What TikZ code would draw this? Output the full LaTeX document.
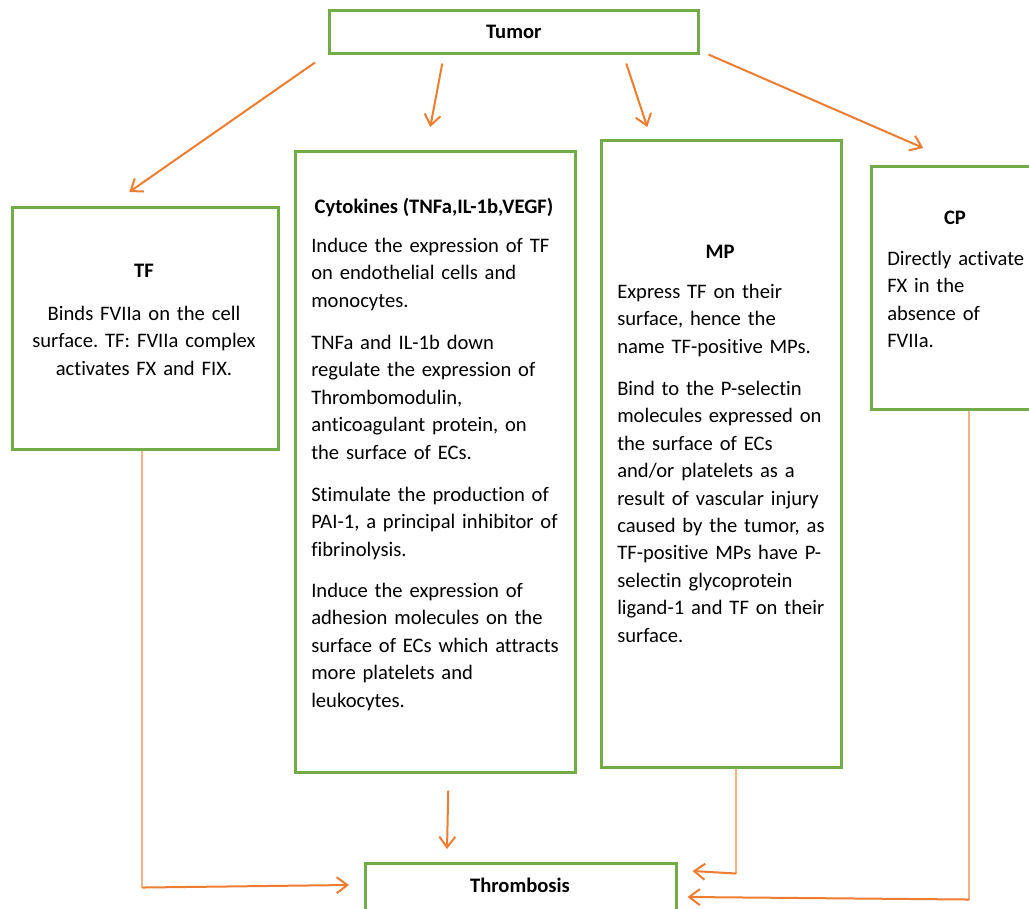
\documentclass[tikz,border=0pt]{standalone}
\usepackage{fontspec}
\setmainfont{Carlito}[Ligatures=NoCommon]
\usetikzlibrary{arrows.meta,calc}
\definecolor{boxgreen}{HTML}{70AD47}
\definecolor{arrdark}{HTML}{ED7D31}
\definecolor{arrlight}{HTML}{F4B183}
\newcommand{\bodyfont}{\frenchspacing\fontsize{15.45pt}{20.6pt}\selectfont}
\begin{document}
\begin{tikzpicture}[x=0.75pt,y=-0.75pt,
  box/.style={draw=boxgreen,line width=1.9pt,fill=white,inner sep=0pt,anchor=north west},
  ltxt/.style={inner sep=0pt,font=\bodyfont,align=left,text width=#1,anchor=mid west,yshift=-3pt},
  ctxt/.style={inner sep=0pt,font=\bodyfont,align=center,text width=#1,anchor=mid,yshift=-3pt},
  ttl/.style={inner sep=0pt,font=\bfseries\bodyfont,anchor=mid,yshift=-3pt},
  arr/.style={draw=arrdark,line width=1.5pt,-{Straight Barb[length=8pt,width=12pt]}},
  lightline/.style={draw=arrlight,line width=1.3pt}
]
\useasboundingbox (0,0) rectangle (1029,909);
\fill[white] (0,0) rectangle (1029,909);

% boxes
\node[box,minimum width=276.75pt,minimum height=32.25pt,font=\bfseries\bodyfont] (tumor) at (328,9) {Tumor};
\node[box,minimum width=199.5pt,minimum height=181.5pt] (tf) at (11,206) {};
\node[box,minimum width=210pt,minimum height=465.75pt] (cyto) at (294,150) {};
\node[box,minimum width=180pt,minimum height=470.25pt] (mp) at (600,139) {};
\node[box,minimum width=127.5pt,minimum height=182.25pt] (cp) at (870,165) {};
\node[box,minimum width=233.25pt,minimum height=45pt] (thromb) at (364,862) {};

% texts
\node[ttl] (tftitle) at (144,270) {TF};
\node[ctxt=190pt] (tftext) at (144,313) {Binds FVIIa on the cell\\surface. TF: FVIIa complex\\activates FX and FIX.};

\node[ttl] (cytotitle) at (434,206) {Cytokines (TNFa,IL-1b,VEGF)};
\node[ltxt=200pt] (cyto1) at (311,245) {Induce the expression of TF\\on endothelial cells and\\monocytes.};
\node[ltxt=200pt] (cyto2) at (311,342) {TNFa and IL-1b down\\regulate the expression of\\Thrombomodulin,\\anticoagulant protein, on\\the surface of ECs.};
\node[ltxt=200pt] (cyto3) at (311,494) {Stimulate the production of\\PAI-1, a principal inhibitor of\\fibrinolysis.};
\node[ltxt=200pt] (cyto4) at (311,590) {Induce the expression of\\adhesion molecules on the\\surface of ECs which attracts\\more platelets and\\leukocytes.};

\node[ttl] (mptitle) at (720,251) {MP};
\node[ltxt=170pt] (mp1) at (617,291) {Express TF on their\\surface, hence the\\name TF-positive MPs.};
\node[ltxt=170pt] (mp2) at (617,388) {Bind to the P-selectin\\molecules expressed on\\the surface of ECs\\and/or platelets as a\\result of vascular injury\\caused by the tumor, as\\TF-positive MPs have P-\\selectin glycoprotein\\ligand-1 and TF on their\\surface.};

\node[ttl] (cptitle) at (955,217) {CP};
\node[ltxt=120pt] (cp1) at (887,258) {Directly activate\\FX in the\\absence of\\FVIIa.};

\node[ttl] (thrombtitle) at (520,885) {Thrombosis};

% arrows from tumor
\draw[arr] ($(tumor.south west)+(-13,8)$) -- ($(tf.north)+(-16,-14)$);
\draw[arr] ($(tumor.south)+(-71.5,9)$) -- ($(cyto.north)+(-5,-23)$);
\draw[arr] ($(tumor.south)+(112.5,9)$) -- ($(mp.north)+(-74,-12)$);
\draw[arr] ($(tumor.south east)+(9,0)$) -- ($(cp.north)+(-33,-17)$);

% arrows to thrombosis
\draw[arr] ($(cyto.south)+(13,17)$) -- ($(thromb.north west)+(83,-13)$);

\coordinate (tfc) at ($(tf.south)+(-3,437)$);
\draw[lightline] ($(tf.south)+(-3,0)$) -- (tfc);
\draw[arr] (tfc) -- ($(thromb.north west)+(-15,23)$);

\coordinate (mpc) at ($(mp.south)+(15,105)$);
\draw[lightline] ($(mp.south)+(15,0)$) -- (mpc);
\draw[arr] (mpc) -- ($(thromb.north east)+(15,9)$);

\coordinate (cpc) at ($(cp.south)+(13,489)$);
\draw[lightline] ($(cp.south)+(13,0)$) -- (cpc);
\draw[arr] (cpc) -- ($(thromb.north east)+(10,35)$);
\end{tikzpicture}
\end{document}
